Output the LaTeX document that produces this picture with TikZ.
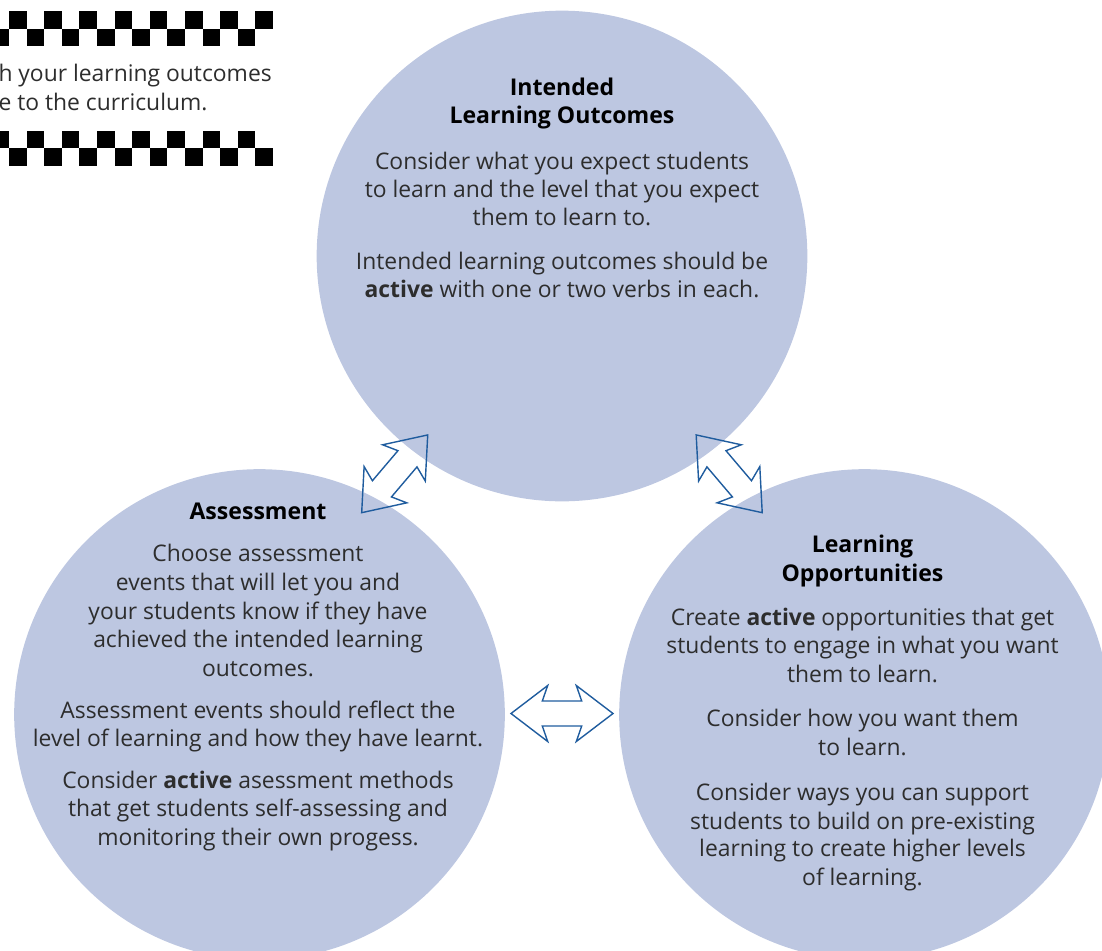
\documentclass[tikz,border=0pt]{standalone}
\usepackage{fontspec}
\setmainfont{Open Sans}
\definecolor{disc}{RGB}{189,199,225}
\definecolor{arrowblue}{RGB}{31,92,158}
\definecolor{bodytext}{RGB}{45,45,45}

\tikzset{
  disc/.style={circle, fill=disc, draw=none, inner sep=0pt, minimum size=368pt},
  bodyline/.style={anchor=base, inner sep=0pt, font=\fontsize{17.15}{21}\selectfont, text=bodytext},
  headline/.style={anchor=base, inner sep=0pt, font=\fontsize{17.3}{21}\selectfont\bfseries, text=black},
  checker/.style={fill=black},
  dblarrow/.style={draw=arrowblue, line width=1.05pt, line join=miter},
  pics/twoway/.style={code={
    \draw[dblarrow] (51,0) -- (14.3,28) -- (19.7,12.5) -- (-19.7,12.5) -- (-14.3,28)
      -- (-51,0) -- (-14.3,-28) -- (-19.7,-12.5) -- (19.7,-12.5) -- (14.3,-28) -- cycle;
  }},
}

\begin{document}
\begin{tikzpicture}[x=0.75pt, y=-0.75pt]
  \useasboundingbox (0,0) rectangle (1102,950);
  \clip (0,0) rectangle (1102,950);

  % checkered bands
  \foreach \k in {0,...,7} {
    \fill[checker] (9+35.2*\k, 11) rectangle +(17.6,17.6);
    \fill[checker] (-8.6+35.2*\k, 28.6) rectangle +(17.6,17.6);
    \fill[checker] (-8.6+35.2*\k, 130.8) rectangle +(17.6,17.6);
    \fill[checker] (9+35.2*\k, 148.4) rectangle +(17.6,17.6);
  }
  \node[bodyline, anchor=base east] (cornerA) at (272,81) {h your learning outcomes};
  \node[bodyline, anchor=base west] (cornerB) at ([yshift=-21.75pt]cornerA.base west) {e to the curriculum.};

  % the three discs
  \node[disc] (ilo) at (562,256) {};
  \node[disc] (assess) at (259.5,714.5) {};
  \node[disc] (opps) at (864.5,714.5) {};

  % two-way arrows between the discs
  \pic (arrowL) at (394.7,473.8) [rotate=49.65] {twoway};
  \pic (arrowR) at (729.2,473.8) [rotate=-49.65] {twoway};
  \pic (arrowB) at (562,713.5) {twoway};

  % Intended Learning Outcomes
  \node[headline] (iloH1) at (562,95) {Intended};
  \node[headline] (iloH2) at (562,123.3) {Learning Outcomes};
  \node[bodyline] (ilo1) at (562,169.5) {Consider what you expect students};
  \node[bodyline] (ilo2) at (562,197.5) {to learn and the level that you expect};
  \node[bodyline] (ilo3) at (562,225.5) {them to learn to.};
  \node[bodyline] (ilo4) at (562,269) {Intended learning outcomes should be};
  \node[bodyline] (ilo5) at (562,297) {\textbf{active} with one or two verbs in each.};

  % Assessment
  \node[headline] (asH) at (258,519.3) {Assessment};
  \node[bodyline] (as1) at (258,561) {Choose assessment};
  \node[bodyline] (as2) at (258,590) {events that will let you and};
  \node[bodyline] (as3) at (258,619) {your students know if they have};
  \node[bodyline] (as4) at (258,647) {achieved the intended learning};
  \node[bodyline] (as5) at (258,676) {outcomes.};
  \node[bodyline] (as6) at (258,718.3) {Assessment events should reflect the};
  \node[bodyline] (as7) at (258,746.7) {level of learning and how they have learnt.};
  \node[bodyline] (as8) at (258,788.3) {Consider \textbf{active} asessment methods};
  \node[bodyline] (as9) at (258,816.7) {that get students self-assessing and};
  \node[bodyline] (as10) at (258,845.7) {monitoring their own progess.};

  % Learning Opportunities
  \node[headline] (loH1) at (862.5,552.7) {Learning};
  \node[headline] (loH2) at (862.5,581.7) {Opportunities};
  \node[bodyline] (lo1) at (862.5,625) {Create \textbf{active} opportunities that get};
  \node[bodyline] (lo2) at (862.5,653.3) {students to engage in what you want};
  \node[bodyline] (lo3) at (862.5,682.3) {them to learn.};
  \node[bodyline] (lo4) at (862.5,726.7) {Consider how you want them};
  \node[bodyline] (lo5) at (862.5,755.7) {to learn.};
  \node[bodyline] (lo6) at (862.5,800) {Consider ways you can support};
  \node[bodyline] (lo7) at (862.5,829) {students to build on pre-existing};
  \node[bodyline] (lo8) at (862.5,856.7) {learning to create higher levels};
  \node[bodyline] (lo9) at (862.5,885.7) {of learning.};
\end{tikzpicture}
\end{document}
